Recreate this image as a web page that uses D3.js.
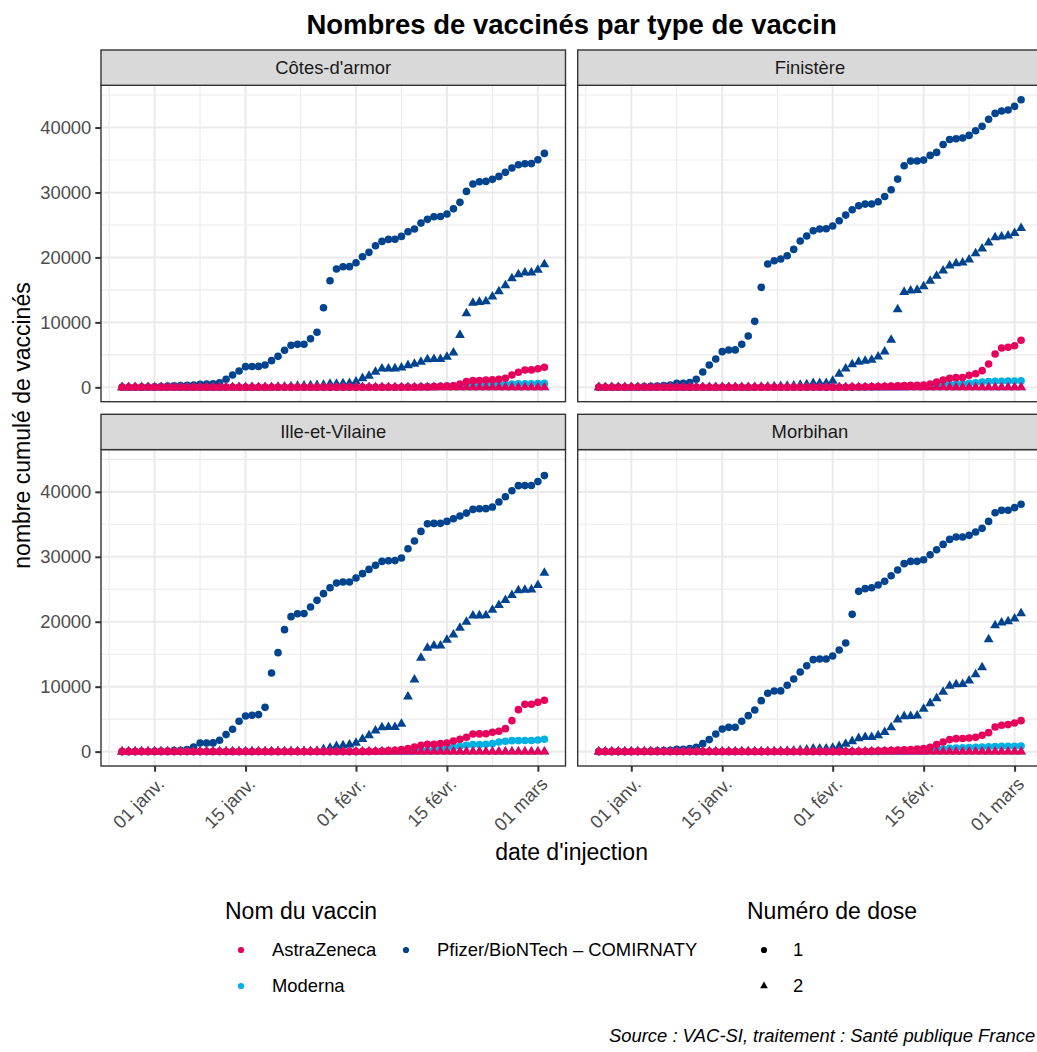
<!DOCTYPE html>
<html>
<head>
<meta charset="utf-8">
<script src="https://cdn.jsdelivr.net/npm/d3@7"></script>
<style>
  body { margin: 0; background: #fff; overflow: hidden; }
  svg { display: block; font-family: "Liberation Sans", Arial, sans-serif; }
</style>
</head>
<body>
<svg id="chart" width="1037" height="1052"></svg>
<script>
// ---- data ----
const FIRST_DAY = "2020-12-27";
const LAST_DAY = "2021-03-02";

const departements = ["Côtes-d'armor", "Finistère", "Ille-et-Vilaine", "Morbihan"];
const vaccins = ["AstraZeneca", "Pfizer/BioNTech – COMIRNATY", "Moderna"];
const vaccinColors = ["#e6005c", "#00448f", "#00b1e4"];
const doses = ["1", "2"];

const tickDates = ["2021-01-01", "2021-01-15", "2021-02-01", "2021-02-15", "2021-03-01"];
const tickLabels = ["01 janv.", "15 janv.", "01 févr.", "15 févr.", "01 mars"];
const minorDates = ["2020-12-25", "2021-01-08", "2021-01-23T12:00", "2021-02-08", "2021-02-22"];
const yTicks = [0, 10000, 20000, 30000, 40000];
const yMinor = [5000, 15000, 25000, 35000, 45000];

const ZERO_SERIES = [0,0,0,0,0,0,0,0,0,0,0,
  0,0,0,0,0,0,0,0,0,0,
  0,0,0,0,0,0,0,0,0,0,
  0,0,0,0,0,0,0,0,0,0,
  0,0,0,0,0,0,0,0,0,0,
  0,0,0,0,0,0,0,0,0,0,
  0,0,0,0,0];

const cotesPfizer1 = [0,10,20,40,60,90,130,180,230,280,320,
  350,450,520,560,700,1230,1900,2520,3180,3200,
  3220,3440,4110,4770,5700,6460,6620,6640,7490,8470,
  12260,16420,18210,18570,18580,19190,20110,20780,21810,22470,
  22780,22800,23240,23960,24370,25290,25860,26270,26300,26680,
  27500,28480,30170,31300,31660,31710,32020,32480,33100,33760,
  34280,34430,34450,35050,36020];
const cotesPfizer2 = [0,0,0,0,0,0,0,0,0,0,0,
  0,0,0,0,0,0,0,0,0,0,
  0,0,0,50,100,150,200,250,280,320,
  360,510,515,610,620,870,1390,1740,2360,2870,
  2880,2890,3030,3390,3590,3900,4310,4320,4330,4670,
  5340,8050,11390,12980,13130,13240,13950,14780,15700,16780,
  17400,17650,17660,18060,18930];
const cotesAstra1 = [0,0,0,0,0,0,0,0,0,0,0,
  0,0,0,0,0,0,0,0,0,0,
  0,0,0,0,0,0,0,0,0,0,
  0,0,0,0,0,0,0,0,0,0,
  0,0,0,0,20,40,60,100,150,200,
  250,510,870,1030,1040,1130,1140,1230,1390,1900,
  2310,2670,2680,2870,3080];
const cotesModerna1 = [0,0,0,0,0,0,0,0,0,0,0,
  0,0,0,0,0,0,0,0,0,0,
  0,0,0,0,0,0,0,0,0,0,
  0,0,0,0,0,0,0,0,0,0,
  10,20,30,40,60,80,100,120,150,180,
  220,260,290,310,330,400,420,450,480,520,
  540,550,560,580,600];

const finPfizer1 = [0,0,0,0,10,20,50,100,150,200,280,
  360,620,630,720,1230,2360,3440,4360,5490,5750,
  5760,6620,7900,10160,15390,18980,19500,19750,20260,21240,
  22520,23290,24110,24370,24420,24830,25650,26520,27340,27960,
  28210,28220,28570,29390,30420,32060,34110,34830,34840,34990,
  35710,36170,37400,38170,38280,38380,38790,39510,40180,41260,
  42180,42540,42690,43260,44290];
const finPfizer2 = [0,0,0,0,0,0,0,0,0,0,0,
  0,0,0,0,0,0,0,0,0,0,
  0,0,0,30,60,100,130,170,200,250,
  360,460,620,625,630,980,2060,2870,3540,3900,
  4050,4210,4720,5490,7290,12000,14670,14880,14980,15540,
  16370,17140,17960,18730,19090,19190,19650,20620,21340,22260,
  23090,23190,23340,23750,24520];
const finAstra1 = [0,0,0,0,0,0,0,0,0,0,0,
  0,0,0,0,0,0,0,0,0,0,
  0,0,0,0,0,0,0,0,0,0,
  0,0,0,0,0,0,0,10,30,50,
  70,100,120,150,200,230,260,300,330,360,
  510,820,1130,1390,1490,1500,1850,2100,2570,3590,
  5130,6050,6160,6410,7230];
const finModerna1 = [0,0,0,0,0,0,0,0,0,0,0,
  0,0,0,0,0,0,0,0,0,0,
  0,0,0,0,0,0,0,0,0,0,
  0,0,0,0,0,0,0,0,0,0,
  10,20,30,40,45,50,100,150,200,250,
  300,360,420,470,520,560,620,700,800,880,
  920,940,950,970,990];

const ivPfizer1 = [0,0,0,10,20,40,70,100,150,210,310,
  720,1330,1335,1340,1740,2620,3440,4670,5490,5590,
  5700,6820,12110,15240,18780,20780,21240,21250,22270,23290,
  24320,25240,25960,26110,26120,26730,27400,28060,28680,29290,
  29400,29410,29810,31240,32420,33910,35090,35140,35150,35450,
  35860,36270,36730,37300,37400,37410,37660,38430,39250,40170,
  40950,40960,40970,41580,42500];
const ivPfizer2 = [0,0,0,0,0,0,0,0,0,0,0,
  0,0,0,0,0,0,0,0,0,0,
  0,0,0,10,20,30,40,60,80,100,
  360,560,820,970,1080,1330,1900,2510,3230,3740,
  3750,3760,4260,8460,11080,14420,15960,16320,16330,17190,
  18010,19040,19970,20940,20950,20960,21830,22550,23320,24090,
  24810,24910,24920,25640,27530];
const ivAstra1 = [0,0,0,0,0,0,0,0,0,0,0,
  0,0,0,0,0,0,0,0,0,0,
  0,0,0,0,0,0,0,0,0,0,
  0,0,0,0,0,0,10,30,60,100,
  150,220,310,460,720,970,1130,1140,1230,1330,
  1640,1900,2210,2720,2730,2740,2980,3130,3540,4770,
  6460,7280,7290,7590,7900];
const ivModerna1 = [0,0,0,0,0,0,0,0,0,0,0,
  0,0,0,0,0,0,0,0,0,0,
  0,0,0,0,0,0,0,0,0,0,
  0,0,0,0,0,0,0,0,10,20,
  30,40,45,50,100,150,200,300,400,460,
  720,820,970,1080,1090,1130,1230,1490,1590,1690,
  1700,1710,1720,1800,1900];

const morPfizer1 = [0,0,0,0,0,10,30,50,80,110,150,
  210,360,370,460,670,1230,1850,2720,3490,3740,
  3750,4670,5540,6410,7850,8980,9340,9350,10210,11180,
  12260,13230,14160,14260,14270,14720,15650,16730,21140,24680,
  25090,25240,25650,26220,27090,27960,28940,29290,29300,29550,
  30320,31090,31910,32680,33040,33050,33300,33810,34380,35450,
  36790,37150,37160,37570,38080];
const morPfizer2 = [0,0,0,0,0,0,0,0,0,0,0,
  0,0,0,0,0,0,0,0,0,0,
  0,0,0,0,0,10,30,60,100,150,
  220,310,460,460,470,560,820,1180,1590,2050,
  2210,2220,2510,2980,3740,4920,5440,5450,5540,6570,
  7440,8210,9180,10110,10360,10370,10930,11900,12980,17290,
  19440,19850,20060,20470,21290];
const morAstra1 = [0,0,0,0,0,0,0,0,0,0,0,
  0,0,0,0,0,0,0,0,0,0,
  0,0,0,0,0,0,0,0,0,0,
  0,0,0,0,0,0,0,10,20,40,
  60,90,120,160,200,230,270,310,380,460,
  670,1080,1490,1850,2000,2010,2100,2210,2510,2920,
  3800,4050,4160,4410,4770];
const morModerna1 = [0,0,0,0,0,0,0,0,0,0,0,
  0,0,0,0,0,0,0,0,0,0,
  0,0,0,0,0,0,0,0,0,0,
  0,0,0,0,0,0,0,0,0,0,
  0,0,0,10,20,30,40,60,80,100,
  200,300,400,500,550,580,620,660,700,740,
  780,800,810,830,850];

// [departement, vaccin, dose, values] in drawing order
const series = [
  [departements[0], vaccins[1], "1", cotesPfizer1], [departements[0], vaccins[1], "2", cotesPfizer2],
  [departements[0], vaccins[2], "1", cotesModerna1], [departements[0], vaccins[2], "2", ZERO_SERIES],
  [departements[0], vaccins[0], "1", cotesAstra1], [departements[0], vaccins[0], "2", ZERO_SERIES],
  [departements[1], vaccins[1], "1", finPfizer1], [departements[1], vaccins[1], "2", finPfizer2],
  [departements[1], vaccins[2], "1", finModerna1], [departements[1], vaccins[2], "2", ZERO_SERIES],
  [departements[1], vaccins[0], "1", finAstra1], [departements[1], vaccins[0], "2", ZERO_SERIES],
  [departements[2], vaccins[1], "1", ivPfizer1], [departements[2], vaccins[1], "2", ivPfizer2],
  [departements[2], vaccins[2], "1", ivModerna1], [departements[2], vaccins[2], "2", ZERO_SERIES],
  [departements[2], vaccins[0], "1", ivAstra1], [departements[2], vaccins[0], "2", ZERO_SERIES],
  [departements[3], vaccins[1], "1", morPfizer1], [departements[3], vaccins[1], "2", morPfizer2],
  [departements[3], vaccins[2], "1", morModerna1], [departements[3], vaccins[2], "2", ZERO_SERIES],
  [departements[3], vaccins[0], "1", morAstra1], [departements[3], vaccins[0], "2", ZERO_SERIES],
];

// ---- layout ----
const panelLeft = 101, panelW = 464.5, colGap = 12.2;
const stripTop = 50, stripH = 35.3, panelH = 316.4, rowGap = 12.6;
const tickColor = "#333333", textGrey = "#4d4d4d";

const svg = d3.select("#chart");
const parseDay = d3.utcParse("%Y-%m-%d");
const parseTime = d3.utcParse("%Y-%m-%dT%H:%M");
const toDate = s => parseDay(s) || parseTime(s);
const days = d3.utcDay.range(toDate(FIRST_DAY), d3.utcDay.offset(toDate(LAST_DAY), 1));

const rows = [];
series.forEach(([dept, vaccin, dose, values]) => {
  values.forEach((v, i) => rows.push({ dept, vaccin, dose, date: days[i], value: v }));
});

const dateExt = d3.extent(days);
const pad = (dateExt[1] - dateExt[0]) * 0.05;
const x = d3.scaleUtc()
  .domain([new Date(+dateExt[0] - pad), new Date(+dateExt[1] + pad)])
  .range([0, panelW]);
const yMax = d3.max(rows, d => d.value);
const y = d3.scaleLinear()
  .domain([-yMax * 0.05, yMax * 1.05])
  .range([panelH, 0]);
const color = d3.scaleOrdinal().domain(vaccins).range(vaccinColors);
const triangle = d3.symbol().type(d3.symbolTriangle).size(42);

departements.forEach((dept, k) => {
  const col = k % 2, row = Math.floor(k / 2);
  const px = panelLeft + col * (panelW + colGap);
  const sy = stripTop + row * (stripH + panelH + rowGap);
  const py = sy + stripH;
  const g = svg.append("g").attr("transform", `translate(${px},${py})`);

  g.append("rect").attr("width", panelW).attr("height", panelH).attr("fill", "#fff");

  // grid
  g.selectAll("line.xminor").data(minorDates.map(toDate)).join("line")
    .attr("x1", d => x(d)).attr("x2", d => x(d)).attr("y1", 0).attr("y2", panelH)
    .attr("stroke", "#ebebeb").attr("stroke-width", 1.1);
  g.selectAll("line.yminor").data(yMinor).join("line")
    .attr("y1", d => y(d)).attr("y2", d => y(d)).attr("x1", 0).attr("x2", panelW)
    .attr("stroke", "#ebebeb").attr("stroke-width", 1.1);
  g.selectAll("line.xmajor").data(tickDates.map(toDate)).join("line")
    .attr("x1", d => x(d)).attr("x2", d => x(d)).attr("y1", 0).attr("y2", panelH)
    .attr("stroke", "#ebebeb").attr("stroke-width", 2.1);
  g.selectAll("line.ymajor").data(yTicks).join("line")
    .attr("y1", d => y(d)).attr("y2", d => y(d)).attr("x1", 0).attr("x2", panelW)
    .attr("stroke", "#ebebeb").attr("stroke-width", 2.1);

  // points
  const pts = rows.filter(d => d.dept === dept);
  const marks = g.append("g");
  pts.forEach(d => {
    if (d.dose === "1") {
      marks.append("circle").attr("cx", x(d.date)).attr("cy", y(d.value))
        .attr("r", 3.8).attr("fill", color(d.vaccin));
    } else {
      marks.append("path").attr("d", triangle)
        .attr("transform", `translate(${x(d.date)},${y(d.value)})`)
        .attr("fill", color(d.vaccin));
    }
  });

  g.append("rect").attr("width", panelW).attr("height", panelH)
    .attr("fill", "none").attr("stroke", tickColor).attr("stroke-width", 1.4);

  // strip
  svg.append("rect").attr("x", px).attr("y", sy).attr("width", panelW).attr("height", stripH)
    .attr("fill", "#d9d9d9").attr("stroke", tickColor).attr("stroke-width", 1.4);
  svg.append("text").attr("x", px + panelW / 2).attr("y", sy + stripH / 2)
    .attr("dy", "0.35em").attr("text-anchor", "middle")
    .attr("font-size", 18.4).attr("fill", "#1a1a1a").text(dept);

  // axes
  if (col === 0) {
    const ay = g.append("g").call(d3.axisLeft(y).tickValues(yTicks).tickSize(5.7).tickPadding(4).tickFormat(d3.format("d")));
    ay.select(".domain").remove();
    ay.selectAll("line").attr("stroke", tickColor).attr("stroke-width", 2);
    ay.selectAll("text").attr("font-size", 18.4).attr("fill", textGrey)
      .attr("font-family", "Liberation Sans, Arial, sans-serif");
  }
  if (row === 1) {
    const ax = g.append("g").attr("transform", `translate(0,${panelH})`)
      .call(d3.axisBottom(x).tickValues(tickDates.map(toDate)).tickSize(5.7)
        .tickFormat((d, i) => tickLabels[i]));
    ax.select(".domain").remove();
    ax.selectAll("line").attr("stroke", tickColor).attr("stroke-width", 2);
    ax.selectAll("text").attr("font-size", 18.4).attr("fill", textGrey)
      .attr("font-family", "Liberation Sans, Arial, sans-serif")
      .attr("x", 0).attr("y", 0).attr("dy", "0.71em")
      .attr("transform", "translate(1,10) rotate(-45)")
      .style("text-anchor", "end");
  }
});

// titles
svg.append("text").attr("x", 571.6).attr("y", 34).attr("text-anchor", "middle")
  .attr("font-size", 27.5).attr("font-weight", "bold").attr("fill", "#000")
  .text("Nombres de vaccinés par type de vaccin");
svg.append("text").attr("transform", "translate(30,425.5) rotate(-90)").attr("text-anchor", "middle")
  .attr("font-size", 23).attr("fill", "#000").text("nombre cumulé de vaccinés");
svg.append("text").attr("x", 571.6).attr("y", 860).attr("text-anchor", "middle")
  .attr("font-size", 23).attr("fill", "#000").text("date d'injection");

// legend: vaccin
const leg = svg.append("g");
leg.append("text").attr("x", 225).attr("y", 919).attr("font-size", 23).text("Nom du vaccin");
const vaccinKeys = [
  { name: vaccins[0], cx: 241, cy: 950 },
  { name: vaccins[1], cx: 406, cy: 950 },
  { name: vaccins[2], cx: 241, cy: 986 },
];
vaccinKeys.forEach(k => {
  leg.append("circle").attr("cx", k.cx).attr("cy", k.cy).attr("r", 3.1).attr("fill", color(k.name));
  leg.append("text").attr("x", k.cx + 31).attr("y", k.cy).attr("dy", "0.35em")
    .attr("font-size", 18.4).attr("fill", "#000").text(k.name);
});

// legend: dose
leg.append("text").attr("x", 747).attr("y", 919).attr("font-size", 23).text("Numéro de dose");
leg.append("circle").attr("cx", 764).attr("cy", 950).attr("r", 3.1).attr("fill", "#000");
leg.append("path").attr("d", d3.symbol().type(d3.symbolTriangle).size(26))
  .attr("transform", "translate(764,986)").attr("fill", "#000");
doses.forEach((d, i) => {
  leg.append("text").attr("x", 793).attr("y", 950 + i * 36).attr("dy", "0.35em")
    .attr("font-size", 18.4).attr("fill", "#000").text(d);
});

// caption
svg.append("text").attr("x", 609).attr("y", 1042).attr("font-size", 18.4)
  .attr("font-style", "italic").attr("fill", "#000")
  .text("Source : VAC-SI, traitement : Santé publique France");
</script>
</body>
</html>
